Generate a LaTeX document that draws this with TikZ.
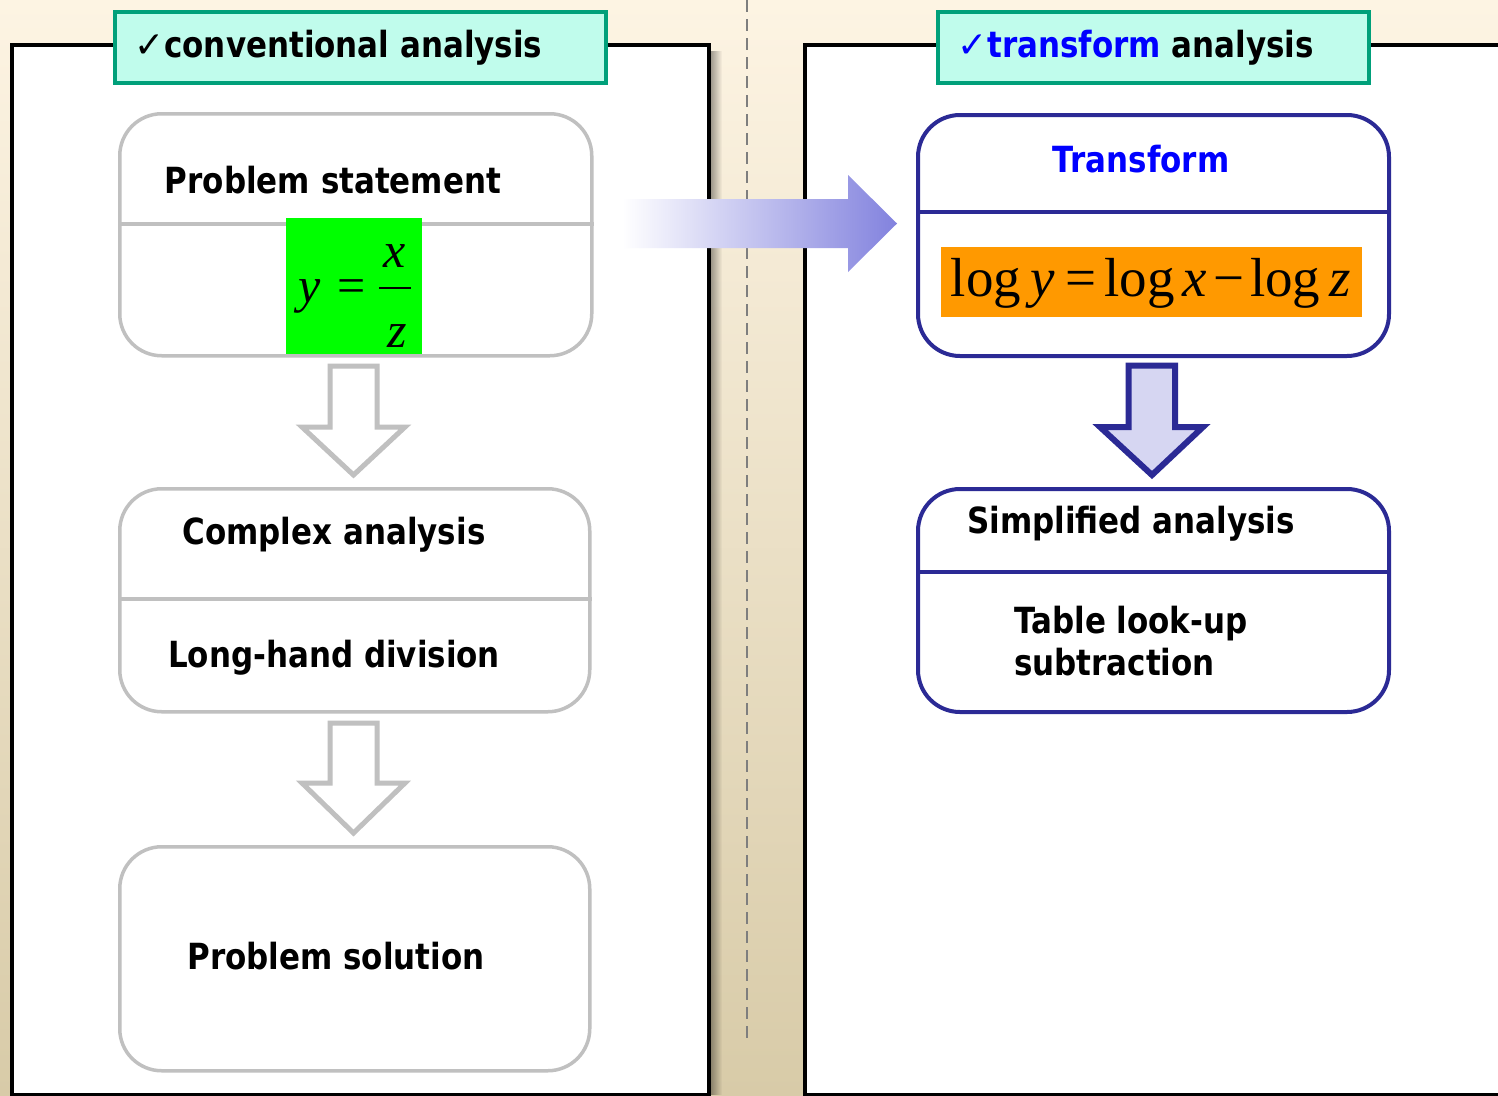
\documentclass[tikz,border=0pt]{standalone}
\usepackage{fontspec}
\setmainfont{DejaVu Sans}[FakeStretch=0.86]
\newfontfamily\chkfont{DejaVu Sans}
\newfontfamily\tnr{Liberation Serif}
\usetikzlibrary{fadings}
\definecolor{bgtop}{HTML}{FDF4E3}
\definecolor{bgmid}{HTML}{F8EDD6}
\definecolor{bgbot}{HTML}{D8CBA8}
\definecolor{mint}{HTML}{C0FCEC}
\definecolor{tealb}{HTML}{00A07A}
\definecolor{boxgray}{HTML}{C0C0C0}
\definecolor{navyb}{HTML}{2B2A95}
\definecolor{lav}{HTML}{D6D6F2}
\definecolor{arrblue}{HTML}{8282DE}
\definecolor{dashg}{HTML}{7E7E7E}
\definecolor{eqgreen}{HTML}{00FF00}
\definecolor{eqorange}{HTML}{FF9900}
\definecolor{tblue}{HTML}{0000FF}
\begin{document}
\begin{tikzpicture}[x=1pt,y=-1pt,
  txt/.style={font=\fontsize{36}{42}\selectfont\bfseries, inner sep=0pt},
  eq/.style={font=\tnr\fontsize{50}{50}\selectfont, inner sep=0pt},
  gbox/.style={draw=boxgray, line width=3.5pt, rounded corners=42pt, fill=white, inner sep=0pt, anchor=north west},
  nbox/.style={draw=navyb, line width=4pt, rounded corners=42pt, fill=white, inner sep=0pt, anchor=north west},
  titlebox/.style={draw=tealb, line width=3.5pt, fill=mint, inner sep=0pt, anchor=north west},
  panel/.style={draw=black, line width=3.5pt, fill=white, inner sep=0pt, anchor=north west},
  garrow/.style={draw=boxgray, line width=5pt, fill=white, line join=miter},
  narrow/.style={draw=navyb, line width=6pt, fill=lav, line join=miter},
  gdiv/.style={draw=boxgray, line width=3.5pt},
  ndiv/.style={draw=navyb, line width=4pt},
  chk/.style={}]
\useasboundingbox (0,0) rectangle (1498,1095);
\clip (0,0) rectangle (1498,1095);
% background
\shade[top color=bgtop, middle color=bgmid, bottom color=bgbot] (0,0) rectangle (1498,1095);
% dashed separator
\draw[dashg, line width=2.4pt, dash pattern=on 12pt off 7pt] (747,0) -- (747,1040);
% shadow of the left panel
\fill[black, opacity=0.45, path fading=east] (708,50) rectangle (722,1095);
% panels
\node[panel, minimum width=697pt, minimum height=1050pt] (lp) at (10,43) {};
\node[panel, minimum width=720pt, minimum height=1050pt] (rp) at (803,43) {};
% titles
\node[titlebox, minimum width=491pt, minimum height=71pt] (t1box) at (113,10) {};
\node[txt, anchor=base west] (t1) at (134,57) {{\chkfont\mdseries\fontsize{36}{36}\selectfont ✓}conventional analysis};
\node[titlebox, minimum width=431pt, minimum height=71pt] (t2box) at (936,10) {};
\node[txt, anchor=base west] (t2) at (957,57) {\textcolor{tblue}{{\chkfont\mdseries\fontsize{36}{36}\selectfont ✓}transform} analysis};
% ---- left column ----
\node[gbox, minimum width=472pt, minimum height=242pt] (b1) at (118,112) {};
\draw[gdiv] (b1.west |- 0,224) -- (b1.east |- 0,224);
\node[txt, anchor=base] (ps) at (333,193) {Problem statement};
\node[fill=eqgreen, minimum width=136pt, minimum height=136pt, inner sep=0pt, anchor=north west] (g) at (286,218) {};
\node[eq, anchor=base] (ey) at (310,302) {\itshape y};
\node[eq, anchor=base] (eeq) at (352,302) {=};
\node[eq, anchor=base] (ex) at (395,267) {\itshape x};
\node[eq, anchor=base] (ez) at (397,347) {\itshape z};
\coordinate (fl) at (379,288);
\coordinate (fr) at (411,288);
\draw[line width=2.4pt] (fl) -- (fr);
\draw[garrow] (330,366) -- (377,366) -- (377,427) -- (405,427) -- (353.5,475) -- (302,427) -- (330,427) -- cycle;
\node[gbox, minimum width=470pt, minimum height=223pt] (b2) at (118,487) {};
\draw[gdiv] (b2.west |- 0,599) -- (b2.east |- 0,599);
\node[txt, anchor=base] (ca) at (334,544) {Complex analysis};
\node[txt, anchor=base] (lh) at (334,667) {Long-hand division};
\draw[garrow] (330,723) -- (377,723) -- (377,783) -- (405,783) -- (353.5,833) -- (302,783) -- (330,783) -- cycle;
\node[gbox, minimum width=470pt, minimum height=224pt] (b3) at (118,845) {};
\node[txt, anchor=base] (sol) at (336,969) {Problem solution};
% ---- right column ----
\node[nbox, minimum width=471pt, minimum height=241pt] (r1) at (916,113) {};
\draw[ndiv] (r1.west |- 0,212) -- (r1.east |- 0,212);
\node[txt, anchor=base, text=tblue] (tr) at (1141,172) {Transform};
\node[fill=eqorange, minimum width=421pt, minimum height=70pt, inner sep=0pt, anchor=north west] (o) at (941,247) {};
\node[font=\tnr\fontsize{55}{55}\selectfont, inner sep=0pt, anchor=base] (leq) at (1151,296)
  {log\hspace{0.17em}\textit{y}\hspace{0.2em}=\hspace{0.14em}log\hspace{0.14em}\textit{x}\hspace{0.12em}−\hspace{0.1em}log\hspace{0.17em}\textit{z}};
\draw[narrow] (1128.5,365.5) -- (1175,365.5) -- (1175,427) -- (1203,427) -- (1152,475) -- (1100,427) -- (1128.5,427) -- cycle;
\node[nbox, minimum width=471pt, minimum height=223pt] (r2) at (916,487) {};
\draw[ndiv] (r2.west |- 0,572) -- (r2.east |- 0,572);
\node[txt, anchor=base] (sa) at (1131,533) {Simplified analysis};
\node[txt, anchor=base west] (tl) at (1014,633) {Table look-up};
\node[txt, anchor=base west] (sub) at (1014,675) {subtraction};
% ---- gradient arrow ----
\shade[left color=white, right color=arrblue] (622,199) -- (848,199) -- (848,175) -- (897,223.5) -- (848,272) -- (848,248) -- (622,248) -- cycle;
\end{tikzpicture}
\end{document}
